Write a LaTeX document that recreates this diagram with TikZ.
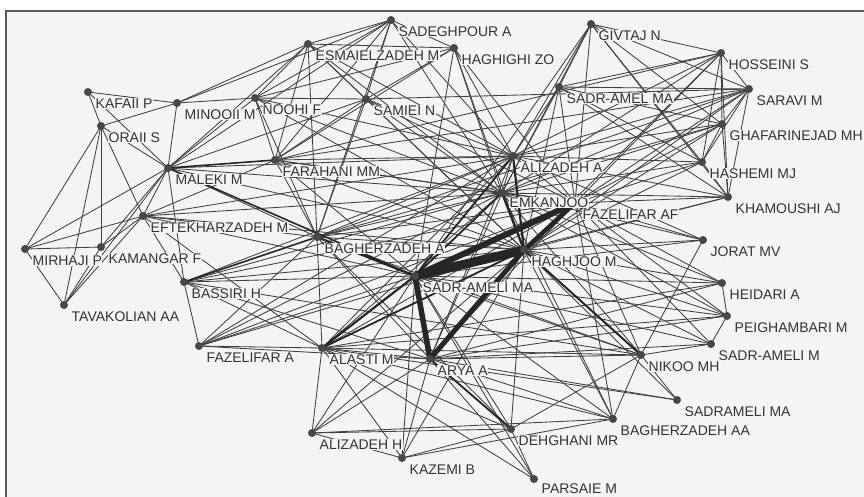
\documentclass[tikz,border=0pt]{standalone}
\usepackage{fontspec}
\setmainfont{Liberation Sans}
\usetikzlibrary{positioning, backgrounds}
\definecolor{paper}{HTML}{F4F4F4}
\definecolor{ink}{HTML}{333333}
\definecolor{wire}{HTML}{404040}

\begin{document}
\begin{tikzpicture}[x=1pt, y=-1pt, node distance=3.2pt and 4.2pt,
    actor/.style={circle, fill=ink!90, inner sep=0pt, outer sep=0pt, minimum size=8pt},
    tag/.style={fill=paper, inner sep=0.5pt, text=ink, font=\fontsize{14}{14}\selectfont},
    tie/.style={draw=wire, line width=0.85pt},
    heavytie/.style={draw=black!85, line width=#1}]
\useasboundingbox (0,0) rectangle (864,496);
\clip (0,0) rectangle (864,496);

% actors
\node[actor] (sadeghpour) at (391,20) {};
\node[actor] (esmaielzadeh) at (308,44) {};
\node[actor] (haghighi) at (454,48) {};
\node[actor] (givtaj) at (591,24) {};
\node[actor] (hosseini) at (721,53) {};
\node[actor] (saravi) at (749,89) {};
\node[actor] (sadramel) at (559,87) {};
\node[actor] (ghafarinejad) at (722,124) {};
\node[actor] (hashemi) at (702,162) {};
\node[actor] (khamoushi) at (728,197) {};
\node[actor] (fazelifarAF) at (575,203) {};
\node[actor] (jorat) at (703,240) {};
\node[actor] (heidari) at (722,283) {};
\node[actor] (peighambari) at (727,316) {};
\node[actor] (sadrameliM) at (711,344) {};
\node[actor] (nikoo) at (641,355) {};
\node[actor] (sadramelima) at (677,400) {};
\node[actor] (bagherzadehAA) at (613,419) {};
\node[actor] (dehghani) at (511,429) {};
\node[actor] (parsaie) at (534,479) {};
\node[actor] (kazemi) at (402,458) {};
\node[actor] (alizadehH) at (312,433) {};
\node[actor] (arya) at (430,359) {};
\node[actor] (alasti) at (322,348) {};
\node[actor] (sadrameliMA) at (415,276) {};
\node[actor] (haghjoo) at (524,250) {};
\node[actor] (bagherzadehA) at (317,237) {};
\node[actor] (emkanjoo) at (502,193) {};
\node[actor] (alizadehA) at (513,156) {};
\node[actor] (samiei) at (366,99) {};
\node[actor] (noohi) at (255,98) {};
\node[actor] (minooii) at (177,103) {};
\node[actor] (kafaii) at (88,92) {};
\node[actor] (oraii) at (101,126) {};
\node[actor] (maleki) at (168,168) {};
\node[actor] (farahani) at (275,160) {};
\node[actor] (eftekhar) at (143,216) {};
\node[actor] (mirhaji) at (25,249) {};
\node[actor] (kamangar) at (101,247) {};
\node[actor] (tavakolian) at (64,305) {};
\node[actor] (bassiri) at (184,282) {};
\node[actor] (fazelifarA) at (199,346) {};

% names
\node[tag, below right=of sadeghpour] (sadeghpour-l) {SADEGHPOUR A};
\node[tag, below right=of esmaielzadeh] (esmaielzadeh-l) {ESMAIELZADEH M};
\node[tag, below right=of haghighi] (haghighi-l) {HAGHIGHI ZO};
\node[tag, below right=of givtaj] (givtaj-l) {GIVTAJ N};
\node[tag, below right=of hosseini] (hosseini-l) {HOSSEINI S};
\node[tag, below right=of saravi] (saravi-l) {SARAVI M};
\node[tag, below right=of sadramel] (sadramel-l) {SADR-AMEL MA};
\node[tag, below right=of ghafarinejad] (ghafarinejad-l) {GHAFARINEJAD MH};
\node[tag, below right=of hashemi] (hashemi-l) {HASHEMI MJ};
\node[tag, below right=of khamoushi] (khamoushi-l) {KHAMOUSHI AJ};
\node[tag, below right=of fazelifarAF] (fazelifarAF-l) {FAZELIFAR AF};
\node[tag, below right=of jorat] (jorat-l) {JORAT MV};
\node[tag, below right=of heidari] (heidari-l) {HEIDARI A};
\node[tag, below right=of peighambari] (peighambari-l) {PEIGHAMBARI M};
\node[tag, below right=of sadrameliM] (sadrameliM-l) {SADR-AMELI M};
\node[tag, below right=of nikoo] (nikoo-l) {NIKOO MH};
\node[tag, below right=of sadramelima] (sadramelima-l) {SADRAMELI MA};
\node[tag, below right=of bagherzadehAA] (bagherzadehAA-l) {BAGHERZADEH AA};
\node[tag, below right=of dehghani] (dehghani-l) {DEHGHANI MR};
\node[tag, below right=1.5pt and 4.2pt of parsaie] (parsaie-l) {PARSAIE M};
\node[tag, below right=of kazemi] (kazemi-l) {KAZEMI B};
\node[tag, below right=of alizadehH] (alizadehH-l) {ALIZADEH H};
\node[tag, below right=of arya] (arya-l) {ARYA A};
\node[tag, below right=of alasti] (alasti-l) {ALASTI M};
\node[tag, below right=of sadrameliMA] (sadrameliMA-l) {SADR-AMELI MA};
\node[tag, below right=of haghjoo] (haghjoo-l) {HAGHJOO M};
\node[tag, below right=of bagherzadehA] (bagherzadehA-l) {BAGHERZADEH A};
\node[tag, below right=1pt and 4.2pt of emkanjoo] (emkanjoo-l) {EMKANJOO};
\node[tag, below right=of alizadehA] (alizadehA-l) {ALIZADEH A};
\node[tag, below right=of samiei] (samiei-l) {SAMIEI N};
\node[tag, below right=of noohi] (noohi-l) {NOOHI F};
\node[tag, below right=of minooii] (minooii-l) {MINOOII M};
\node[tag, below right=of kafaii] (kafaii-l) {KAFAII P};
\node[tag, below right=of oraii] (oraii-l) {ORAII S};
\node[tag, below right=of maleki] (maleki-l) {MALEKI M};
\node[tag, below right=of farahani] (farahani-l) {FARAHANI MM};
\node[tag, below right=of eftekhar] (eftekhar-l) {EFTEKHARZADEH M};
\node[tag, below right=of mirhaji] (mirhaji-l) {MIRHAJI P};
\node[tag, below right=of kamangar] (kamangar-l) {KAMANGAR F};
\node[tag, below right=of tavakolian] (tavakolian-l) {TAVAKOLIAN AA};
\node[tag, below right=of bassiri] (bassiri-l) {BASSIRI H};
\node[tag, below right=of fazelifarA] (fazelifarA-l) {FAZELIFAR A};

\begin{scope}[on background layer]
  \fill[white] (0,0) rectangle (864,496);
  \filldraw[fill=paper, draw=black!65, line width=1.2pt] (6,11) rectangle (880,510);
  % co-author ties
  \foreach \a/\b in {kafaii/minooii, kafaii/oraii, kafaii/maleki, oraii/minooii, oraii/mirhaji,
      oraii/kamangar, oraii/tavakolian, oraii/eftekhar, oraii/maleki, minooii/maleki,
      maleki/mirhaji, maleki/kamangar, maleki/eftekhar, maleki/tavakolian, mirhaji/kamangar,
      mirhaji/tavakolian, kamangar/tavakolian, eftekhar/tavakolian, eftekhar/kamangar,
      mirhaji/eftekhar, eftekhar/bassiri, bassiri/fazelifarA, maleki/bassiri,
      maleki/noohi, maleki/esmaielzadeh, maleki/samiei, maleki/bagherzadehA, maleki/alizadehA,
      maleki/emkanjoo, maleki/haghjoo, maleki/sadeghpour,
      esmaielzadeh/sadeghpour, esmaielzadeh/noohi, esmaielzadeh/samiei, esmaielzadeh/farahani,
      esmaielzadeh/alizadehA, esmaielzadeh/emkanjoo, esmaielzadeh/bagherzadehA,
      esmaielzadeh/haghjoo, esmaielzadeh/minooii, sadeghpour/noohi, sadeghpour/samiei,
      sadeghpour/farahani, sadeghpour/haghighi, sadeghpour/alizadehA, sadeghpour/emkanjoo,
      sadeghpour/bagherzadehA, sadeghpour/minooii, haghighi/alizadehA, haghighi/emkanjoo,
      haghighi/haghjoo, haghighi/fazelifarAF, haghighi/noohi, haghighi/farahani,
      haghighi/samiei, haghighi/sadrameliMA, haghighi/esmaielzadeh, noohi/samiei,
      noohi/farahani, noohi/alizadehA, noohi/emkanjoo, noohi/bagherzadehA, noohi/haghjoo,
      noohi/minooii, samiei/farahani, samiei/alizadehA, samiei/emkanjoo, samiei/haghjoo,
      samiei/bagherzadehA, samiei/fazelifarAF, farahani/alizadehA, farahani/emkanjoo,
      farahani/haghjoo, farahani/bagherzadehA, farahani/sadrameliMA, farahani/fazelifarAF,
      farahani/eftekhar,
      givtaj/hosseini, givtaj/saravi, givtaj/sadramel, givtaj/ghafarinejad, givtaj/hashemi,
      givtaj/khamoushi, givtaj/alizadehA, givtaj/emkanjoo, givtaj/fazelifarAF,
      givtaj/sadrameliMA, hosseini/saravi, hosseini/sadramel, hosseini/ghafarinejad,
      hosseini/hashemi, hosseini/khamoushi, hosseini/alizadehA, hosseini/emkanjoo,
      hosseini/fazelifarAF, hosseini/haghjoo, hosseini/farahani, saravi/sadramel,
      saravi/ghafarinejad, saravi/hashemi, saravi/khamoushi, saravi/alizadehA,
      saravi/emkanjoo, saravi/fazelifarAF, saravi/haghjoo, saravi/farahani,
      saravi/bagherzadehA, saravi/samiei, sadramel/ghafarinejad, sadramel/hashemi,
      sadramel/khamoushi, sadramel/alizadehA, sadramel/emkanjoo, sadramel/fazelifarAF,
      sadramel/haghjoo, ghafarinejad/hashemi, ghafarinejad/khamoushi, ghafarinejad/alizadehA,
      ghafarinejad/emkanjoo, ghafarinejad/fazelifarAF, ghafarinejad/haghjoo,
      ghafarinejad/bagherzadehA, hashemi/khamoushi, hashemi/alizadehA, hashemi/emkanjoo,
      hashemi/fazelifarAF, hashemi/haghjoo, khamoushi/alizadehA, khamoushi/emkanjoo,
      khamoushi/fazelifarAF, khamoushi/haghjoo, khamoushi/sadrameliMA,
      alizadehA/emkanjoo, alizadehA/fazelifarAF, alizadehA/bagherzadehA, alizadehA/alasti,
      alizadehA/arya, alizadehA/bassiri, alizadehA/fazelifarA, alizadehA/eftekhar,
      alizadehA/jorat, emkanjoo/fazelifarAF, emkanjoo/bagherzadehA, emkanjoo/alasti,
      emkanjoo/arya, emkanjoo/bassiri, emkanjoo/fazelifarA, emkanjoo/eftekhar,
      fazelifarAF/bagherzadehA, fazelifarAF/alasti, fazelifarAF/arya, fazelifarAF/bassiri,
      fazelifarAF/fazelifarA, haghjoo/bagherzadehA, haghjoo/bassiri, haghjoo/fazelifarA,
      haghjoo/eftekhar, sadrameliMA/bassiri, sadrameliMA/fazelifarA, sadrameliMA/eftekhar,
      bagherzadehA/alasti, bagherzadehA/arya, bagherzadehA/fazelifarA, bagherzadehA/eftekhar,
      alasti/arya, alasti/bassiri, alasti/fazelifarA, alasti/eftekhar, arya/bassiri,
      arya/fazelifarA,
      jorat/fazelifarAF, jorat/haghjoo, jorat/emkanjoo, jorat/sadrameliMA, jorat/nikoo,
      heidari/haghjoo, heidari/fazelifarAF, heidari/sadrameliMA, heidari/peighambari,
      heidari/emkanjoo, heidari/alasti, heidari/arya, peighambari/haghjoo,
      peighambari/fazelifarAF, peighambari/sadrameliMA, peighambari/arya,
      peighambari/sadrameliM, peighambari/alasti, peighambari/emkanjoo, sadrameliM/nikoo,
      sadrameliM/haghjoo, sadrameliM/sadrameliMA, sadrameliM/fazelifarAF, sadrameliM/arya,
      nikoo/sadrameliMA, nikoo/arya, nikoo/alasti, nikoo/bagherzadehAA, nikoo/sadramelima,
      nikoo/dehghani, nikoo/fazelifarAF, nikoo/emkanjoo, nikoo/bagherzadehA, nikoo/bassiri,
      sadramelima/arya, sadramelima/haghjoo, sadramelima/alasti, bagherzadehAA/haghjoo,
      bagherzadehAA/sadrameliMA, bagherzadehAA/arya, bagherzadehAA/fazelifarAF,
      bagherzadehAA/emkanjoo, bagherzadehAA/alasti, bagherzadehAA/alizadehH,
      bagherzadehAA/kazemi,
      dehghani/sadrameliMA, dehghani/haghjoo, dehghani/alasti, dehghani/parsaie,
      dehghani/kazemi, dehghani/alizadehH, dehghani/bagherzadehA, parsaie/arya,
      parsaie/alasti, parsaie/sadrameliMA, kazemi/arya, kazemi/alasti, kazemi/sadrameliMA,
      kazemi/alizadehH, kazemi/haghjoo, alizadehH/alasti, alizadehH/arya,
      alizadehH/sadrameliMA, alizadehH/haghjoo}
    \draw[tie] (\a.center) -- (\b.center);
  % repeated ties
  \foreach \a/\b/\w in {haghjoo/sadrameliMA/9pt, fazelifarAF/sadrameliMA/6pt,
      fazelifarAF/haghjoo/4.5pt, sadrameliMA/arya/5.5pt, haghjoo/arya/5pt,
      alizadehA/haghjoo/2.2pt, emkanjoo/haghjoo/2.2pt, alizadehA/sadrameliMA/1.8pt,
      emkanjoo/sadrameliMA/1.8pt, alasti/sadrameliMA/2.2pt, alasti/haghjoo/1.8pt,
      bagherzadehA/sadrameliMA/2.2pt, haghjoo/nikoo/2pt, arya/dehghani/1.8pt,
      bassiri/bagherzadehA/1.6pt, maleki/farahani/1.6pt, maleki/sadrameliMA/1.6pt}
    \draw[heavytie=\w] (\a.center) -- (\b.center);
\end{scope}
\end{tikzpicture}
\end{document}
